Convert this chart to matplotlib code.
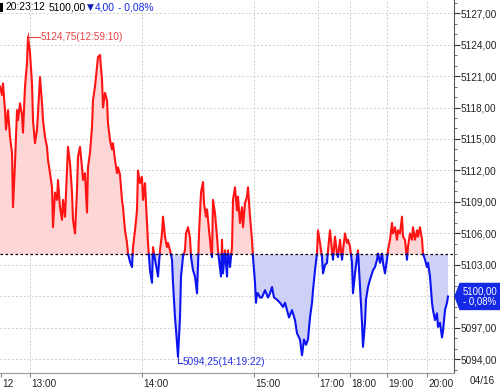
import numpy as np
import matplotlib
matplotlib.use("Agg")
import matplotlib.pyplot as plt
from matplotlib.patches import Polygon, Rectangle
from matplotlib import transforms

plt.rcParams["font.family"] = ["Liberation Sans", "DejaVu Sans"]

# bar index on the compressed session axis and traded price
bar = [0, 2, 3, 5, 6, 8, 10, 12, 13, 15, 17, 18, 20, 22, 23, 25, 27, 28, 30, 32,
       33, 35, 37, 38, 40, 42, 43, 45, 47, 48, 50, 52, 53, 55, 57, 58, 60, 62, 63, 65,
       67, 68, 70, 72, 73, 75, 77, 78, 80, 82, 83, 85, 87, 88, 90, 92, 93, 95, 97, 98,
       100, 102, 103, 105, 107, 108, 110, 112, 113, 115, 117, 118, 120, 122, 123, 125, 127, 128, 130, 132,
       133, 135, 137, 138, 140, 142, 143, 145, 147, 148, 150, 152, 153, 155, 157, 158, 160, 162, 163, 165,
       167, 168, 170, 172, 173, 175, 177, 178, 180, 181, 183, 185, 186, 188, 190, 191, 193, 195, 197, 198,
       199, 201, 203, 204, 206, 207, 209, 211, 212, 213, 215, 217, 218, 219, 221, 222, 223, 225, 227, 228,
       230, 232, 233, 235, 237, 238, 240, 242, 243, 245, 247, 248, 250, 252, 253, 255, 256, 257, 258, 260,
       262, 265, 268, 270, 272, 274, 277, 280, 283, 285, 287, 289, 292, 295, 297, 300, 302, 304, 306, 308,
       310, 312, 313, 315, 317, 318, 320, 322, 323, 325, 327, 328, 330, 332, 333, 335, 337, 338, 340, 342,
       343, 345, 347, 348, 350, 352, 353, 355, 357, 358, 360, 362, 363, 365, 366, 368, 370, 372, 373, 375,
       377, 378, 380, 382, 383, 385, 387, 388, 390, 392, 393, 395, 397, 398, 400, 402, 403, 405, 407, 408,
       410, 412, 413, 415, 417, 418, 420, 422, 423, 425, 427, 428, 430, 432, 433, 435, 437, 438, 440, 442,
       443, 445, 447, 448]
price = [5120.0, 5119.2, 5120.3, 5117.75, 5115.9, 5117.75, 5115.2, 5113.7, 5108.5, 5112.7,
         5117.75, 5116.8, 5118.4, 5117.3, 5115.6, 5120.0, 5122.25, 5124.75, 5123.2, 5120.3,
         5116.8, 5114.6, 5115.9, 5117.5, 5120.9, 5118.4, 5116.8, 5115.2, 5114.25, 5113.0,
         5111.75, 5110.4, 5106.6, 5109.9, 5109.2, 5111.1, 5108.5, 5107.3, 5109.2, 5107.6,
         5112.0, 5114.25, 5112.7, 5109.9, 5107.3, 5106.0, 5110.1, 5113.3, 5114.25, 5112.3,
         5111.1, 5111.75, 5108.0, 5112.3, 5113.7, 5116.1, 5118.7, 5120.0, 5121.9, 5122.8,
         5123.0, 5120.6, 5118.0, 5119.4, 5118.7, 5116.5, 5114.9, 5114.0, 5114.6, 5113.0,
         5111.75, 5112.3, 5111.6, 5109.2, 5108.5, 5106.3, 5105.1, 5104.1, 5103.3, 5102.8,
         5104.7, 5106.3, 5108.2, 5112.0, 5110.8, 5111.4, 5109.2, 5110.8, 5107.0, 5105.1,
         5102.5, 5101.3, 5104.7, 5103.5, 5102.5, 5101.9, 5104.4, 5106.0, 5107.6, 5105.7,
         5104.7, 5105.1, 5104.4, 5103.5, 5101.3, 5098.0, 5095.6, 5094.25, 5098.0, 5101.9,
         5103.8, 5104.4, 5106.0, 5106.6, 5105.6, 5103.8, 5102.5, 5101.9, 5100.3, 5102.8,
         5106.0, 5109.9, 5110.9, 5108.9, 5107.6, 5108.3, 5106.3, 5104.4, 5103.75, 5109.2,
         5107.9, 5105.7, 5104.4, 5103.5, 5101.9, 5105.4, 5102.2, 5104.4, 5101.9, 5104.4,
         5102.8, 5104.7, 5109.2, 5110.4, 5108.2, 5109.5, 5107.0, 5108.5, 5106.6, 5108.9,
         5109.5, 5110.4, 5107.6, 5105.4, 5103.75, 5101.3, 5099.4, 5100.3, 5100.3, 5099.9,
         5099.9, 5100.6, 5099.9, 5100.3, 5100.9, 5099.9, 5099.7, 5099.4, 5099.0, 5099.4,
         5098.7, 5098.0, 5098.7, 5097.75, 5096.5, 5095.9, 5094.4, 5095.9, 5095.4, 5095.9,
         5098.0, 5099.4, 5100.6, 5102.5, 5104.1, 5106.3, 5105.1, 5103.75, 5102.2, 5103.0,
         5103.2, 5104.4, 5106.3, 5104.4, 5103.5, 5105.7, 5104.1, 5103.75, 5105.4, 5103.5,
         5104.4, 5106.0, 5105.1, 5105.4, 5104.75, 5103.2, 5100.3, 5102.2, 5103.75, 5104.4,
         5100.9, 5097.5, 5095.2, 5097.5, 5099.7, 5100.9, 5101.6, 5102.2, 5102.5, 5102.8,
         5103.5, 5104.1, 5103.2, 5104.1, 5103.2, 5102.2, 5103.5, 5104.4, 5105.4, 5107.0,
         5106.0, 5106.6, 5105.4, 5106.3, 5106.0, 5107.6, 5105.7, 5105.4, 5103.5, 5104.75,
         5106.0, 5105.4, 5106.6, 5105.4, 5106.3, 5105.7, 5106.6, 5105.4, 5104.1, 5103.5,
         5102.8, 5103.2, 5101.9, 5099.4, 5098.7, 5097.75, 5098.4, 5097.1, 5097.5, 5096.1,
         5096.7, 5098.7, 5099.4, 5100.0]

prev_close = 5104.0
last_price = 5100.0
change = -4.0
change_pct = -0.08
clock = "20:23:12"
date_label = "04/16"
high_label = "5124,75(12:59:10)"
low_label = "5094,25(14:19:22)"

tick_pos = [1, 30, 142, 254, 318, 350, 387, 427]
tick_txt = ["12", "13:00", "14:00", "15:00", "17:00", "18:00", "19:00", "20:00"]
y_ticks = np.arange(5094, 5128, 3)

RED = "#ff1414"
BLUE = "#0c14f0"
PINK = "#ffd6d6"
LAV = "#cfd0f8"


def fmt(v):
    return f"{v:.2f}".replace(".", ",")


pct_txt = f"- {abs(change_pct):.2f}".replace(".", ",") + "%"

# add the points where the line crosses the previous close so colours split cleanly
x = np.asarray(bar, float)
y = np.asarray(price, float)
xs, ys = [x[0]], [y[0]]
for i in range(1, len(x)):
    a, b = y[i - 1] - prev_close, y[i] - prev_close
    if a * b < 0:
        t = a / (a - b)
        xs.append(x[i - 1] + t * (x[i] - x[i - 1]))
        ys.append(prev_close)
    xs.append(x[i])
    ys.append(y[i])
xs = np.array(xs)
ys = np.array(ys)

fig = plt.figure(figsize=(5.0, 3.9), dpi=100)
ax = fig.add_axes([0.0, 17 / 390, 454 / 500, 373 / 390])
ax.set_xlim(0, 454)
ax.set_ylim(5092.71, 5128.24)

ax.fill_between(xs, ys, prev_close, where=ys >= prev_close, color=PINK, lw=0)
ax.fill_between(xs, ys, prev_close, where=ys <= prev_close, color=LAV, lw=0)
ax.plot(xs, np.where(ys >= prev_close, ys, np.nan), color=RED, lw=1.5)
ax.plot(xs, np.where(ys <= prev_close, ys, np.nan), color=BLUE, lw=1.5)
ax.axhline(prev_close, color="black", lw=0.9, ls=(0, (2, 2)))

# grid
for yt in y_ticks:
    ax.axhline(yt, color="#cfcfcf", lw=0.7, ls=(0, (2, 2)), zorder=0)
for xt in tick_pos[1:]:
    ax.axvline(xt, color="#cfcfcf", lw=0.7, ls=(0, (2, 2)), zorder=0)

for s in ["left", "top"]:
    ax.spines[s].set_visible(False)
ax.spines["right"].set_color("#555555")
ax.spines["bottom"].set_color("#999999")

# the label under the current-price flag is hidden, as on the original screen
ax.yaxis.tick_right()
ax.set_yticks(y_ticks)
ax.set_yticklabels(["" if abs(v - last_price) < 1.5 else fmt(v) for v in y_ticks])
ax.set_yticks(np.arange(5093, 5129, 1), minor=True)
ax.tick_params(axis="y", which="major", length=4, pad=1, labelsize=7.2,
               colors="#333333", labelcolor="#222222")
ax.tick_params(axis="y", which="minor", length=2, colors="#555555")

ax.set_xticks(tick_pos)
ax.set_xticklabels(tick_txt)
ax.tick_params(axis="x", length=3, pad=1.5, labelsize=7.2, colors="#888888",
               labelcolor="#222222")
shift = transforms.ScaledTranslation(1.5 / 100, 0, fig.dpi_scale_trans)
for lab in ax.get_xticklabels():
    lab.set_horizontalalignment("left")
    lab.set_transform(lab.get_transform() + shift)

# high / low markers
hi_i = int(np.argmax(price))
lo_i = int(np.argmin(price))
hx, hy = bar[hi_i], price[hi_i]
lx, ly = bar[lo_i], price[lo_i]
ax.plot([hx, hx + 12], [hy, hy], color="#e84040", lw=0.8)
ax.plot([hx, hx], [hy - 0.35, hy + 0.35], color="#e84040", lw=0.8)
ax.text(hx + 13, hy, high_label, color="#e84040", fontsize=7.2, va="center", ha="left")
ax.plot([lx, lx, lx + 4], [ly, ly - 0.55, ly - 0.55], color="#2830e0", lw=0.8)
ax.text(lx + 4.5, ly - 0.5, low_label, color="#2830e0", fontsize=7.2, va="center", ha="left")

# current price flag on the right axis
yd = ax.transData.transform((0, last_price))[1]
flag = Polygon([(455, yd), (460, yd + 13), (500, yd + 13), (500, yd - 13), (460, yd - 13)],
               closed=True, transform=None, facecolor="#1428e6", edgecolor="#1428e6",
               clip_on=False)
fig.patches.append(flag)
fig.text(480 / 500, yd / 390, fmt(last_price) + "\n" + pct_txt, color="white",
         fontsize=6.9, ha="center", va="center", linespacing=1.05)

fig.text(470 / 500, 1 - 381 / 390, date_label, fontsize=7.2, color="#222222", va="center")

# header line
hy_f = 1 - 7 / 390
fig.patches.append(Rectangle((0, 390 - 12), 2.5, 9, transform=None,
                             facecolor="black", edgecolor="none"))
fig.text(5 / 500, hy_f, clock, fontsize=7.4, color="black", va="center")
fig.text(49 / 500, hy_f, fmt(last_price), fontsize=7.4, color="black", va="center")
fig.text(87 / 500, hy_f, "▼", fontsize=6.5, color="#1020b0", va="center",
         family=["DejaVu Sans"])
fig.text(95 / 500, hy_f, fmt(abs(change)), fontsize=7.4, color="#1428e6", va="center")
fig.text(118 / 500, hy_f, pct_txt, fontsize=7.4, color="#1428e6", va="center")

fig.savefig("out.png", dpi=100)
